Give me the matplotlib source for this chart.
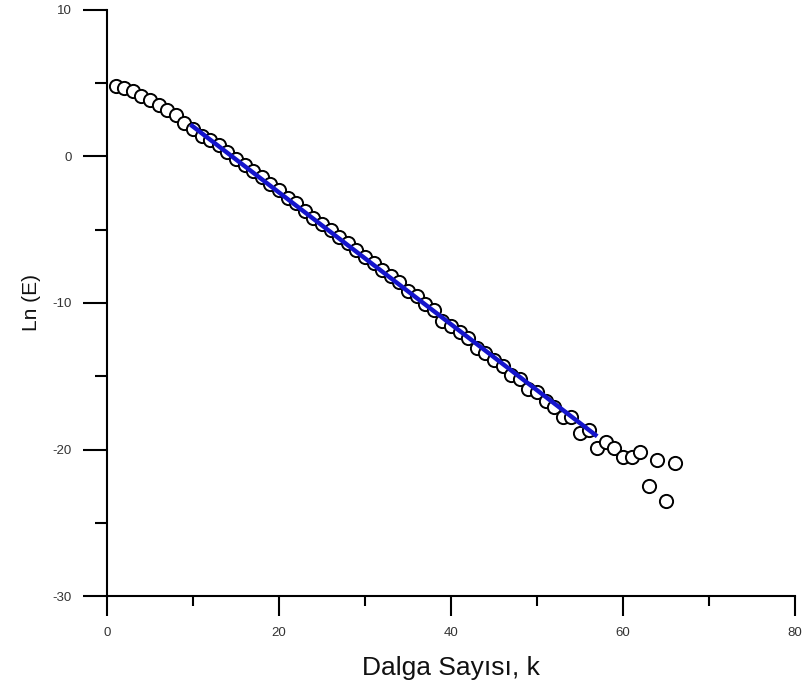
import numpy as np
import matplotlib
matplotlib.use("Agg")
import matplotlib.pyplot as plt
from matplotlib.ticker import MultipleLocator

plt.rcParams['font.family'] = ['Liberation Sans', 'DejaVu Sans']
plt.rcParams['axes.unicode_minus'] = False

# wave number and log energy
k = np.arange(1, 67)
ln_e = [4.8, 4.7, 4.45, 4.15, 3.85, 3.5, 3.2, 2.8, 2.3, 1.85,
        1.4, 1.1, 0.75, 0.3, -0.15, -0.6, -1.0, -1.4, -1.9, -2.3,
        -2.8, -3.2, -3.7, -4.2, -4.6, -5.0, -5.5, -5.9, -6.4, -6.85,
        -7.3, -7.75, -8.15, -8.6, -9.15, -9.55, -10.1, -10.5, -11.2, -11.6,
        -12.0, -12.4, -13.1, -13.4, -13.9, -14.3, -14.9, -15.2, -15.9, -16.1,
        -16.7, -17.1, -17.8, -17.8, -18.85, -18.65, -19.9, -19.5, -19.9, -20.5,
        -20.5, -20.2, -22.5, -20.7, -23.5, -20.9]

# fitted straight line
fit_k = [9.7, 57.0]
fit_y = [2.18, -19.1]

fig = plt.figure(figsize=(8.08, 6.88), dpi=100)
ax = fig.add_axes([0.1324, 0.1337, 0.8515, 0.8518])

ax.plot(k, ln_e, 'o', ms=9.5, mfc='white', mec='black', mew=1.4, zorder=3)
ax.plot(fit_k, fit_y, '-', color='#1414cc', lw=3.2, zorder=4, solid_capstyle='butt')

ax.set_xlim(0, 80)
ax.set_ylim(-30, 10)
ax.xaxis.set_major_locator(MultipleLocator(20))
ax.xaxis.set_minor_locator(MultipleLocator(10))
ax.yaxis.set_major_locator(MultipleLocator(10))
ax.yaxis.set_minor_locator(MultipleLocator(5))

for s in ['top', 'right']:
    ax.spines[s].set_visible(False)
for s in ['left', 'bottom']:
    ax.spines[s].set_linewidth(1.5)

# tick lengths are in points (1 px = 0.72 pt here)
ax.tick_params(which='both', direction='out', width=1.5,
               labelsize=9.5, labelcolor='#333333')
ax.tick_params(axis='x', which='major', length=14.4, pad=8)
ax.tick_params(axis='x', which='minor', length=7.2)
ax.tick_params(axis='y', which='major', length=17.3, pad=8)
ax.tick_params(axis='y', which='minor', length=8.6)

ax.set_xlabel('Dalga Sayısı, k', fontsize=19, labelpad=12, color='#111111')
ax.set_ylabel('Ln (E)', fontsize=15, labelpad=8, color='#111111')

fig.savefig('out.png', dpi=100)
